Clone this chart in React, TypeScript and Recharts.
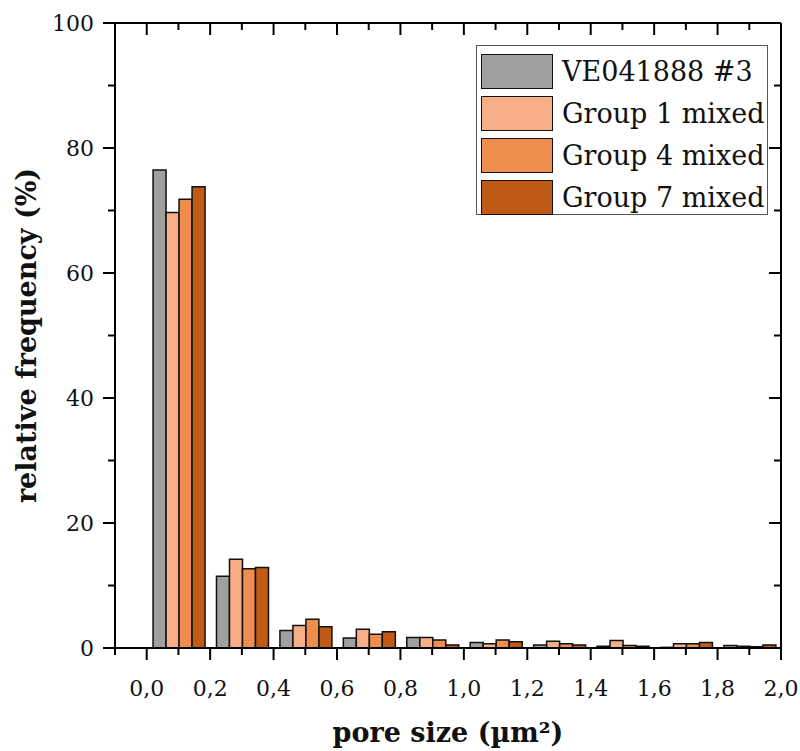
import { BarChart, Bar, XAxis, YAxis, Legend, Label } from "recharts";

// bin centres of the histogram (µm²), bin width 0.2
const binCenters = [0.1, 0.3, 0.5, 0.7, 0.9, 1.1, 1.3, 1.5, 1.7, 1.9];
const ve041888 = [76.5, 11.5, 2.8, 1.6, 1.7, 0.9, 0.5, 0.3, 0.1, 0.4];
const group1 = [69.7, 14.2, 3.6, 3.0, 1.7, 0.7, 1.1, 1.2, 0.7, 0.3];
const group4 = [71.8, 12.7, 4.6, 2.2, 1.3, 1.3, 0.7, 0.4, 0.7, 0.2];
const group7 = [73.8, 12.9, 3.4, 2.6, 0.5, 1.0, 0.5, 0.3, 0.9, 0.5];

const xTicks = [-0.1, 0, 0.1, 0.2, 0.3, 0.4, 0.5, 0.6, 0.7, 0.8, 0.9, 1.0, 1.1, 1.2, 1.3, 1.4, 1.5, 1.6, 1.7, 1.8, 1.9, 2.0];
const yTicks = [0, 10, 20, 30, 40, 50, 60, 70, 80, 90, 100];

const series = [
  { key: "ve", name: "VE041888 #3", color: "#a0a0a0" },
  { key: "g1", name: "Group 1 mixed", color: "#f7ae86" },
  { key: "g4", name: "Group 4 mixed", color: "#ef8d4f" },
  { key: "g7", name: "Group 7 mixed", color: "#c05a14" },
];

const data = binCenters.map((x, i) => ({
  x,
  ve: ve041888[i],
  g1: group1[i],
  g4: group4[i],
  g7: group7[i],
}));

const FONT = "'DejaVu Serif', serif";
const MAJOR = 12;
const MINOR = 7;

const isMajorX = (v: number) => Math.round(v * 10) % 2 === 0;
const isMajorY = (v: number) => v % 20 === 0;
const fmtX = (v: number) => v.toFixed(1).replace(".", ",");

function BottomTick({ x, y, payload }: any) {
  const major = isMajorX(payload.value);
  return (
    <g>
      <line x1={x} x2={x} y1={y} y2={y + (major ? MAJOR : MINOR)} stroke="#000" strokeWidth={2} />
      {major && (
        <text x={x} y={y + 48} textAnchor="middle" fontFamily={FONT} fontSize={22} fill="#111">
          {fmtX(payload.value)}
        </text>
      )}
    </g>
  );
}

function TopTick({ x, y, payload }: any) {
  const major = isMajorX(payload.value);
  return <line x1={x} x2={x} y1={y} y2={y + (major ? MAJOR : MINOR)} stroke="#000" strokeWidth={2} />;
}

function LeftTick({ x, y, payload }: any) {
  const major = isMajorY(payload.value);
  return (
    <g>
      <line x1={x} x2={x - (major ? MAJOR : MINOR)} y1={y} y2={y} stroke="#000" strokeWidth={2} />
      {major && (
        <text x={x - 21} y={y} dy="0.36em" textAnchor="end" fontFamily={FONT} fontSize={22} fill="#111">
          {payload.value}
        </text>
      )}
    </g>
  );
}

function RightTick({ x, y, payload }: any) {
  const major = isMajorY(payload.value);
  return <line x1={x} x2={x - (major ? MAJOR : MINOR)} y1={y} y2={y} stroke="#000" strokeWidth={2} />;
}

function LegendBox() {
  return (
    <div
      style={{
        width: 292,
        height: 170,
        border: "1.5px solid #555",
        background: "#fff",
        boxSizing: "border-box",
        padding: "5px 0 0 4px",
        fontFamily: FONT,
        fontSize: 27,
        color: "#111",
      }}
    >
      {series.map((s) => (
        <div key={s.key} style={{ display: "flex", alignItems: "center", height: 41.8 }}>
          <span
            style={{
              width: 72,
              height: 35,
              background: s.color,
              border: "1.5px solid #111",
              boxSizing: "border-box",
              marginRight: 9,
              flex: "none",
            }}
          />
          <span style={{ whiteSpace: "nowrap" }}>{s.name}</span>
        </div>
      ))}
    </div>
  );
}

export default function App() {
  const axisLine = { stroke: "#000", strokeWidth: 2 };
  return (
    <div style={{ position: "absolute", left: 0, top: 0, background: "#fff" }}>
      <BarChart
        width={800}
        height={751}
        data={data}
        margin={{ top: 13, right: 9, left: 0, bottom: 0 }}
        barGap={0}
        barCategoryGap="10%"
      >
        <XAxis
          dataKey="x"
          type="number"
          domain={[-0.1, 2.0]}
          ticks={xTicks}
          interval={0}
          allowDataOverflow
          height={103}
          tickSize={0}
          tickMargin={0}
          tickLine={false}
          axisLine={axisLine}
          tick={BottomTick}
        >
          <Label
            value="pore size (µm²)"
            position="insideBottom"
            offset={9}
            style={{ fontFamily: FONT, fontWeight: 700, fontSize: 27, fill: "#111" }}
          />
        </XAxis>
        <XAxis
          xAxisId="top"
          orientation="top"
          dataKey="x"
          type="number"
          domain={[-0.1, 2.0]}
          ticks={xTicks}
          interval={0}
          allowDataOverflow
          height={10}
          tickSize={0}
          tickMargin={0}
          tickLine={false}
          axisLine={axisLine}
          tick={TopTick}
        />
        <YAxis
          type="number"
          domain={[0, 100]}
          ticks={yTicks}
          interval={0}
          allowDataOverflow
          width={115}
          tickSize={0}
          tickMargin={0}
          tickLine={false}
          axisLine={axisLine}
          tick={LeftTick}
        >
          <Label
            value="relative frequency (%)"
            angle={-90}
            position="insideLeft"
            offset={26}
            style={{ fontFamily: FONT, fontWeight: 700, fontSize: 27, fill: "#111", textAnchor: "middle" }}
          />
        </YAxis>
        <YAxis
          yAxisId="right"
          orientation="right"
          type="number"
          domain={[0, 100]}
          ticks={yTicks}
          interval={0}
          allowDataOverflow
          width={10}
          tickSize={0}
          tickMargin={0}
          tickLine={false}
          axisLine={axisLine}
          tick={RightTick}
        />
        <Legend
          content={LegendBox}
          layout="horizontal"
          verticalAlign="middle"
          align="center"
          wrapperStyle={{ left: 476, top: 45, width: 292, height: 170 }}
        />
        {series.map((s) => (
          <Bar
            key={s.key}
            dataKey={s.key}
            name={s.name}
            fill={s.color}
            stroke="#111"
            strokeWidth={1.5}
            isAnimationActive={false}
          />
        ))}
      </BarChart>
    </div>
  );
}
